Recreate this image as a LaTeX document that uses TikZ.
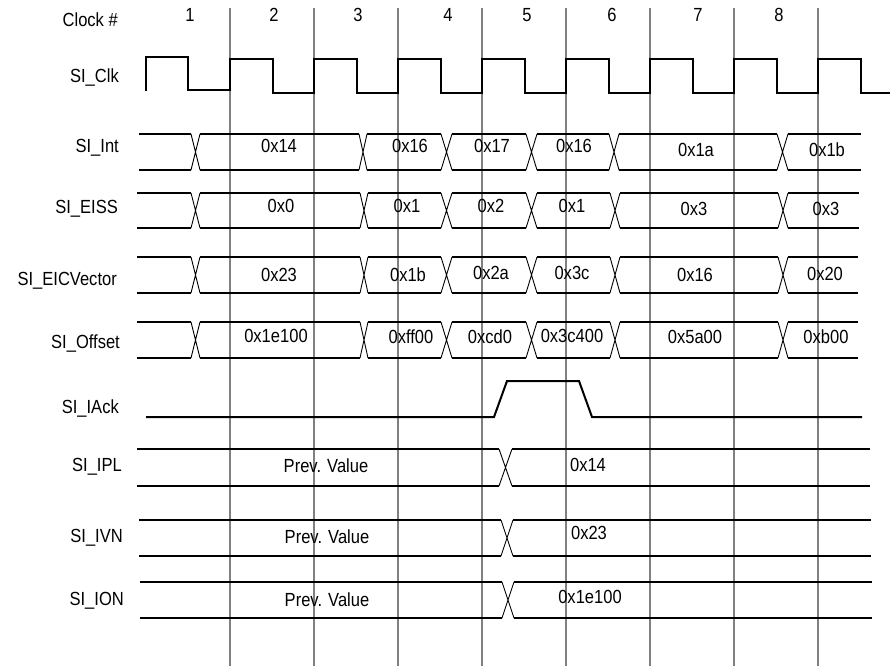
\documentclass[tikz,border=0pt]{standalone}
\usepackage{fontspec}
\setmainfont[FakeStretch=0.87]{Liberation Sans}
\begin{document}
\begin{tikzpicture}[x=1pt,y=-1pt,
  grid/.style={draw=black!50,line width=2pt},
  sig/.style={draw=black,line width=2pt},
  xing/.style={draw=black,line width=0.9pt},
  lbl/.style={inner sep=0pt,anchor=base east,font=\fontsize{19}{22}\selectfont},
  val/.style={inner sep=0pt,anchor=base,font=\fontsize{19}{22}\selectfont},
  num/.style={inner sep=0pt,anchor=base,font=\fontsize{19}{22}\selectfont}]
\useasboundingbox (0,0) rectangle (891,666);
\newcommand\busrow[5]{%
  \xdef\bprev{#3}%
  \foreach \xa/\xb in {#5}{%
    \draw[sig] (\bprev,#1) -- (\xa,#1) (\bprev,#2) -- (\xa,#2);
    \draw[xing] (\xa,#1) -- (\xb,#2) (\xa,#2) -- (\xb,#1);
    \xdef\bprev{\xb}%
  }%
  \draw[sig] (\bprev,#1) -- (#4,#1) (\bprev,#2) -- (#4,#2);
}
% grid lines
\foreach \gx in {230,314,398,482,566,650,734,818}
  \draw[grid] (\gx,8) -- (\gx,666);
% labels
\node[lbl] (lclk) at (118,27) {Clock \#};
\node[lbl] (lsiclk) at (119,83) {SI\_Clk};
\node[lbl] (lint) at (119,152) {SI\_Int};
\node[lbl] (leiss) at (118,213) {SI\_EISS};
\node[lbl] (leic) at (117,285) {SI\_EICVector};
\node[lbl] (loff) at (120,348) {SI\_Offset};
\node[lbl] (lack) at (119,413) {SI\_IAck};
\node[lbl] (lipl) at (122,471) {SI\_IPL};
\node[lbl] (livn) at (123,542) {SI\_IVN};
\node[lbl] (lion) at (124,605) {SI\_ION};
% clock numbers
\node[num] (n1) at (190,22) {1};
\node[num] (n2) at (274,22) {2};
\node[num] (n3) at (358,22) {3};
\node[num] (n4) at (448,22) {4};
\node[num] (n5) at (527,22) {5};
\node[num] (n6) at (612,22) {6};
\node[num] (n7) at (698,22) {7};
\node[num] (n8) at (779,22) {8};
% clock
\draw[sig] (146,91) -- (146,57) -- (188,57) -- (188,90) -- (230,90) -- (230,59)
  -- (273,59) -- (273,93) -- (314,93) -- (314,59)
  -- (357,59) -- (357,93) -- (398,93) -- (398,59)
  -- (441,59) -- (441,93) -- (482,93) -- (482,59)
  -- (525,59) -- (525,93) -- (566,93) -- (566,59)
  -- (609,59) -- (609,93) -- (650,93) -- (650,59)
  -- (693,59) -- (693,93) -- (734,93) -- (734,59)
  -- (777,59) -- (777,93) -- (818,93) -- (818,59)
  -- (861,59) -- (861,93) -- (890,93);
% buses
\busrow{134}{170}{139}{861}{191/200,359/367,441/452,526/537,609/619,777/788}
\busrow{193}{228}{137}{859}{191/200,360/368,441/452,526/537,610/620,778/788}
\busrow{257}{293}{137}{858}{191/200,360/368,441/452,526/537,610/620,778/788}
\busrow{322}{358}{137}{858}{191/200,360/368,441/452,526/537,610/620,778/788}
% SI_Int values
\node[val] (i1) at (279,152) {0x14};
\node[val] (i2) at (410,152) {0x16};
\node[val] (i3) at (492,152) {0x17};
\node[val] (i4) at (574,152) {0x16};
\node[val] (i5) at (696,156) {0x1a};
\node[val] (i6) at (827,156) {0x1b};
% SI_EISS values
\node[val] (e1) at (281,212) {0x0};
\node[val] (e2) at (407,212) {0x1};
\node[val] (e3) at (491,212) {0x2};
\node[val] (e4) at (572,212) {0x1};
\node[val] (e5) at (694,215) {0x3};
\node[val] (e6) at (826,215) {0x3};
% SI_EICVector values
\node[val] (v1) at (279,281) {0x23};
\node[val] (v2) at (408,281) {0x1b};
\node[val] (v3) at (491,279) {0x2a};
\node[val] (v4) at (572,279) {0x3c};
\node[val] (v5) at (695,281) {0x16};
\node[val] (v6) at (825,280) {0x20};
% SI_Offset values
\node[val] (o1) at (276,342) {0x1e100};
\node[val] (o2) at (411,343) {0xff00};
\node[val] (o3) at (490,343) {0xcd0};
\node[val] (o4) at (572,342) {0x3c400};
\node[val] (o5) at (695,343) {0x5a00};
\node[val] (o6) at (826,343) {0xb00};
% SI_IAck
\draw[sig] (146,417) -- (494,417) -- (507,381) -- (579,381) -- (592,417) -- (862,417);
% SI_IPL, SI_IVN, SI_ION
\busrow{449}{486}{137}{870}{499/512}
\busrow{520}{556}{139}{871}{501/513}
\busrow{582}{618}{140}{872}{502/514}
\node[val] (p1) at (326,472) {Prev. Value};
\node[val] (p2) at (588,471) {0x14};
\node[val] (q1) at (327,543) {Prev. Value};
\node[val] (q2) at (589,539) {0x23};
\node[val] (r1) at (327,606) {Prev. Value};
\node[val] (r2) at (590,603) {0x1e100};
\end{tikzpicture}
\end{document}
